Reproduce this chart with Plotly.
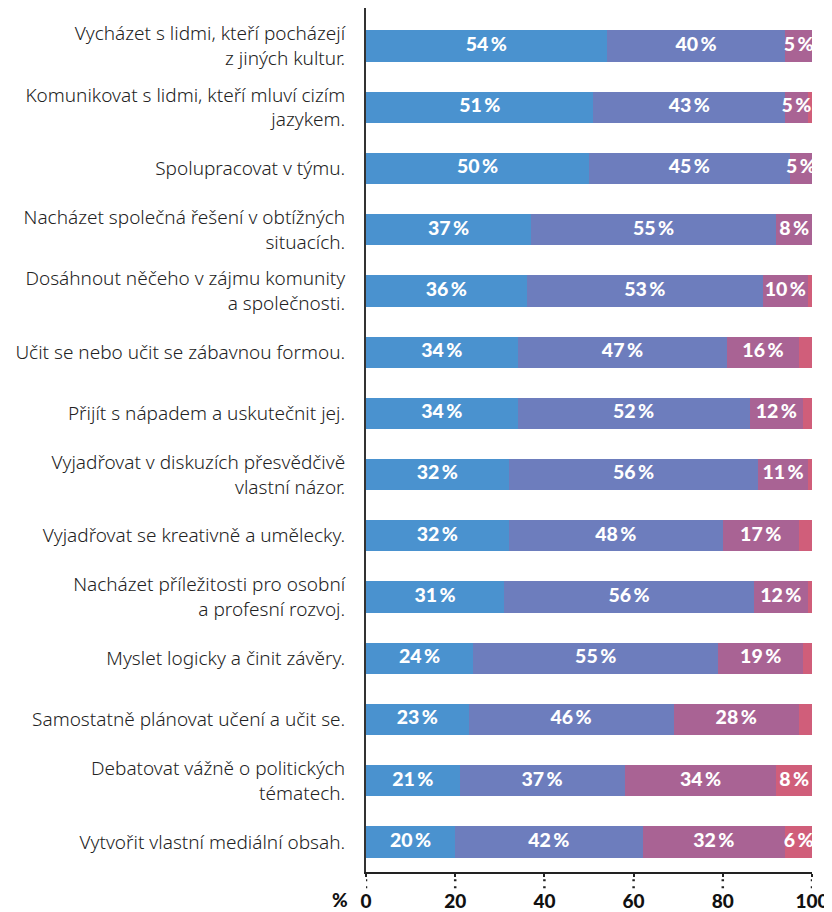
import plotly.graph_objects as go

categories = [
    "Vycházet s lidmi, kteří pocházejí<br>z jiných kultur.",
    "Komunikovat s lidmi, kteří mluví cizím<br>jazykem.",
    "Spolupracovat v týmu.",
    "Nacházet společná řešení v obtížných<br>situacích.",
    "Dosáhnout něčeho v zájmu komunity<br>a společnosti.",
    "Učit se nebo učit se zábavnou formou.",
    "Přijít s nápadem a uskutečnit jej.",
    "Vyjadřovat v diskuzích přesvědčivě<br>vlastní názor.",
    "Vyjadřovat se kreativně a umělecky.",
    "Nacházet příležitosti pro osobní<br>a profesní rozvoj.",
    "Myslet logicky a činit závěry.",
    "Samostatně plánovat učení a učit se.",
    "Debatovat vážně o politických<br>tématech.",
    "Vytvořit vlastní mediální obsah.",
]

# segment widths (%)
s1 = [54, 51, 50, 37, 36, 34, 34, 32, 32, 31, 24, 23, 21, 20]
s2 = [40, 43, 45, 55, 53, 47, 52, 56, 48, 56, 55, 46, 37, 42]
s3 = [6, 5, 5, 8, 10, 16, 12, 11, 17, 12, 19, 28, 34, 32]
s4 = [0, 1, 0, 0, 1, 3, 2, 1, 3, 1, 2, 3, 8, 6]

# printed labels (None = no label)
l1 = [54, 51, 50, 37, 36, 34, 34, 32, 32, 31, 24, 23, 21, 20]
l2 = [40, 43, 45, 55, 53, 47, 52, 56, 48, 56, 55, 46, 37, 42]
l3 = [5, 5, 5, 8, 10, 16, 12, 11, 17, 12, 19, 28, 34, 32]
l4 = [None] * 12 + [8, 6]

tick_vals = [0, 20, 40, 60, 80, 100]
colors = ["#4a92cf", "#6d7dbd", "#a96394", "#d05e7a"]

ys = list(range(len(categories)))
series = [s1, s2, s3, s4]
labels = [l1, l2, l3, l4]

fig = go.Figure()
for s, c in zip(series, colors):
    fig.add_trace(go.Bar(
        x=s, y=ys, orientation="h", marker=dict(color=c, line=dict(width=0)),
        width=0.51, hoverinfo="skip", showlegend=False,
    ))

label_font = dict(family="Lato, 'Open Sans', sans-serif", size=19.5, color="white", weight=900)
cum = [0] * len(categories)
for s, lab in zip(series, labels):
    xs, yy, tt = [], [], []
    for i, (v, l) in enumerate(zip(s, lab)):
        if l is not None and v > 0:
            xs.append(cum[i] + v / 2)
            yy.append(i)
            tt.append(f"{l}\u2009%")
        cum[i] += v
    fig.add_trace(go.Scatter(
        x=xs, y=yy, text=tt, mode="text", textposition="middle center",
        textfont=label_font, hoverinfo="skip", showlegend=False, cliponaxis=False,
    ))

# dotted tick extensions below x axis
for t in tick_vals:
    fig.add_shape(type="line", xref="x", yref="paper", x0=t, x1=t,
                  y0=-0.0085, y1=-0.0195,
                  line=dict(color="#222", width=2.5, dash="2px,5px"))

fig.add_annotation(text="%", xref="paper", yref="paper", x=0, y=0,
                   xanchor="right", yanchor="middle", xshift=-16, yshift=-27,
                   showarrow=False,
                   font=dict(family="Lato, 'Open Sans', sans-serif", size=19,
                             color="#111", weight=900))

fig.update_layout(
    width=824, height=904,
    margin=dict(l=358, r=20, t=0, b=40, autoexpand=False),
    paper_bgcolor="white", plot_bgcolor="white",
    barmode="stack", bargap=0,
    font=dict(family="'Noto Sans', Lato, sans-serif", color="#222"),
    xaxis=dict(
        range=[0, 100], tickvals=tick_vals, ticktext=[str(t) for t in tick_vals],
        showgrid=False, zeroline=False, showline=True, linecolor="#222", linewidth=2,
        ticks="outside", ticklen=3, tickwidth=2, tickcolor="#222",
        ticklabelstandoff=8,
        tickfont=dict(family="Lato, 'Open Sans', sans-serif", size=19, color="#111", weight=900),
        fixedrange=True,
    ),
    yaxis=dict(
        range=[13.49, -0.62], tickvals=ys, ticktext=categories,
        showgrid=False, zeroline=False, showline=True, linecolor="#333", linewidth=2,
        ticks="", ticklabelstandoff=15,
        tickfont=dict(family="'Noto Sans', Lato, sans-serif", size=19, color="#222", weight=300),
        fixedrange=True,
    ),
)

fig.write_html("out.html")
